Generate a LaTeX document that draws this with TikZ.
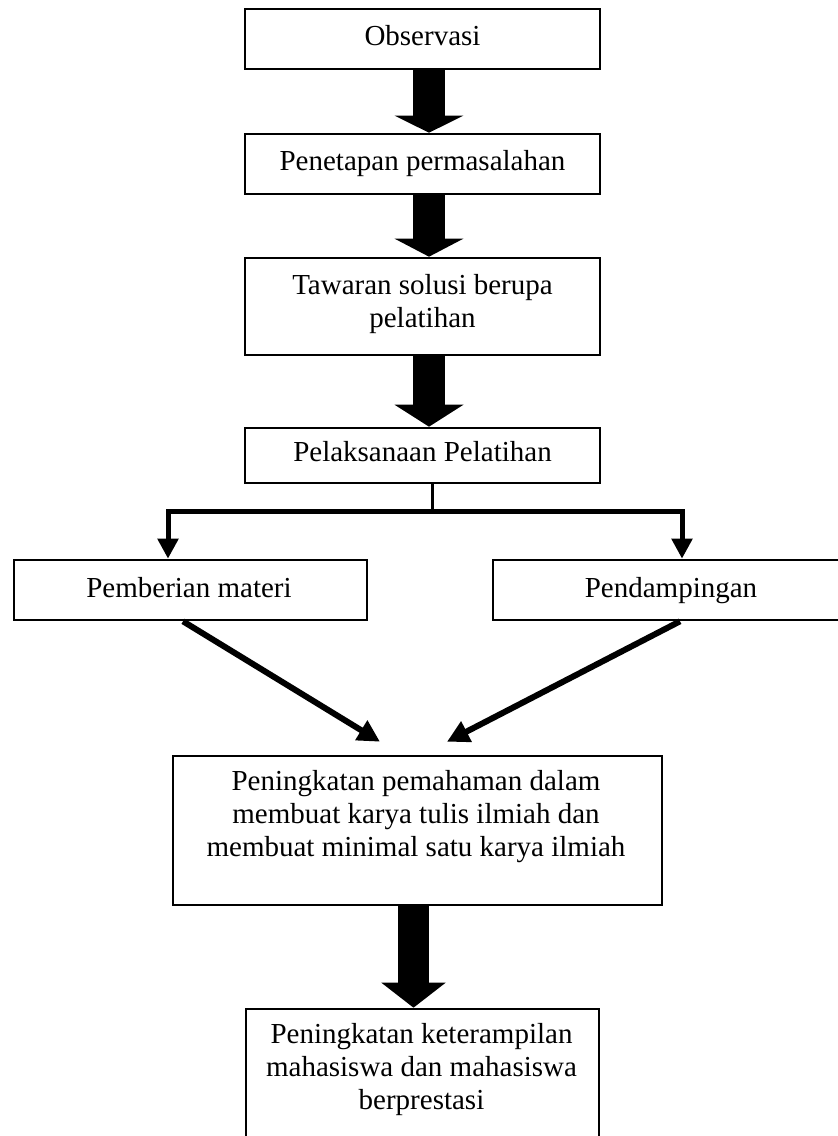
\documentclass[tikz,border=0pt]{standalone}
\usepackage{fontspec}
\setmainfont{Liberation Serif}
\usetikzlibrary{arrows.meta,calc}
\begin{document}
\begin{tikzpicture}[x=1pt,y=-1pt,
  box/.style={draw, line width=2.6pt, inner sep=0pt},
  lbl/.style={font=\fontsize{29}{33}\selectfont, align=center, inner sep=0pt, anchor=base},
  blockarrow/.style={line width=32pt, -{Triangle[width=68pt,length=#1]}},
  blockarrow/.default=18pt,
  conn/.style={line width=5pt, line join=miter, -{Triangle[width=20pt,length=20pt]}},
  diag/.style={line width=6pt, -{Triangle[width=22pt,length=22pt]}}]
\clip (0,0) rectangle (838,1136);
\fill[white] (0,0) rectangle (838,1136);
% boxes
\node[box, minimum width=355pt, minimum height=60pt] (b1) at (422.5,39) {};
\node[box, minimum width=355pt, minimum height=60pt] (b2) at (422.5,164) {};
\node[box, minimum width=355pt, minimum height=97pt] (b3) at (422.5,306.5) {};
\node[box, minimum width=355pt, minimum height=55pt] (b4) at (422.5,455.5) {};
\node[box, minimum width=353pt, minimum height=60pt] (b5a) at (190.5,590) {};
\node[box, minimum width=357pt, minimum height=60pt] (b5b) at (671.5,590) {};
\node[box, minimum width=489pt, minimum height=149pt] (b6) at (417.5,830.5) {};
\node[box, minimum width=353pt, minimum height=151pt] (b7) at (422.5,1084.5) {};
% labels (base anchor = baseline of last line)
\node[lbl] (t1) at (422.5,45) {Observasi};
\node[lbl] (t2) at (422.5,170) {Penetapan permasalahan};
\node[lbl] (t3) at (422.5,327) {Tawaran solusi berupa\\pelatihan};
\node[lbl] (t4) at (422.5,461) {Pelaksanaan Pelatihan};
\node[lbl] (t5a) at (189,597) {Pemberian materi};
\node[lbl] (t5b) at (671,597) {Pendampingan};
\node[lbl] (t6) at (416,856) {Peningkatan pemahaman dalam\\membuat karya tulis ilmiah dan\\membuat minimal satu karya ilmiah};
\node[lbl] (t7) at (421.5,1109) {Peningkatan keterampilan\\mahasiswa dan mahasiswa\\berprestasi};
% block arrows
\draw[blockarrow=17pt] ([xshift=6.5pt]b1.south) -- ([xshift=6.5pt]b2.north);
\draw[blockarrow=18pt] ([xshift=6.5pt]b2.south) -- ([xshift=6.5pt]b3.north);
\draw[blockarrow=22pt] ([xshift=6.5pt]b3.south) -- ([xshift=6.5pt]b4.north);
\draw[line width=31pt, -{Triangle[width=63pt,length=25pt]}] ([xshift=-4pt]b6.south) -- ([xshift=-4pt]b6.south |- b7.north);
% split connector
\coordinate (sp) at ($(b4.south)+(9.5,27)$);
\draw[line width=3pt] ([xshift=9.5pt]b4.south) -- (sp);
\draw[conn] (sp) -| ([xshift=-22.5pt]b5a.north);
\draw[conn] (sp) -| ([xshift=10.5pt]b5b.north);
% diagonal connectors
\coordinate (tl) at ($(b6.north)+(-37.5,-13)$);
\coordinate (tr) at ($(b6.north)+(29.5,-13)$);
\draw[diag] ([xshift=-7.5pt]b5a.south) -- (tl);
\draw[diag] ([xshift=8.5pt]b5b.south) -- (tr);
\end{tikzpicture}
\end{document}
